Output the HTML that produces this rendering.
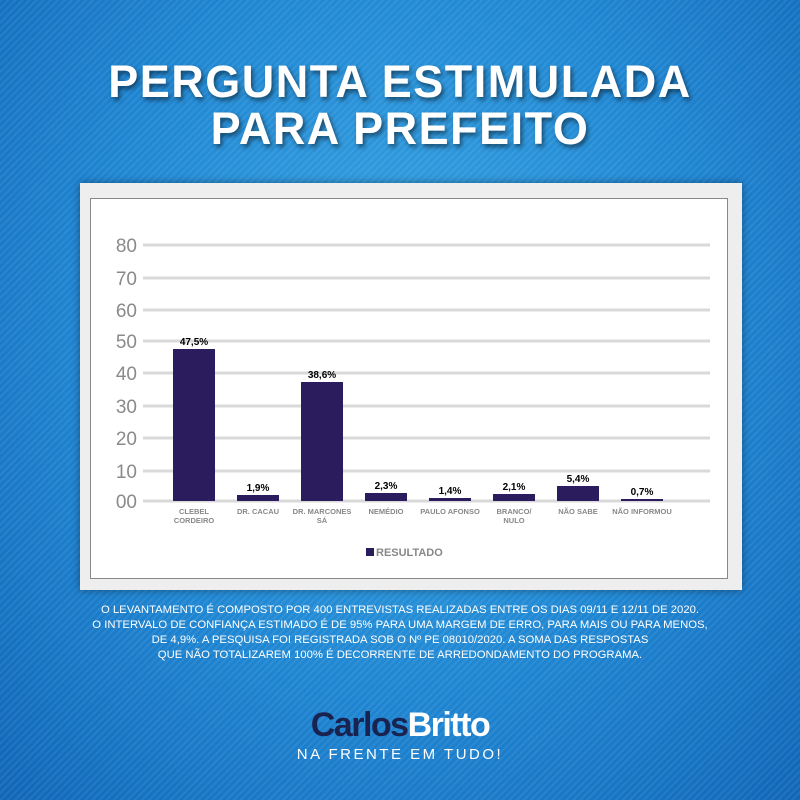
<!DOCTYPE html>
<html><head><meta charset="utf-8"><style>
*{margin:0;padding:0}
body{width:800px;height:800px;overflow:hidden;position:relative;font-family:"Liberation Sans",sans-serif;
background:radial-gradient(ellipse at 50% 40%,#3aa6e4 0%,#1f86d2 55%,#1166b8 100%);}
.stripes{position:absolute;inset:0;background:repeating-linear-gradient(135deg,rgba(255,255,255,0.07) 0 2px,rgba(0,0,0,0) 2px 5px);}
.t{position:absolute;left:0;width:800px;text-align:center;color:#fff;font-weight:bold;font-size:45px;letter-spacing:1.5px;text-shadow:2px 3px 5px rgba(0,0,0,.5)}
.frame{position:absolute;left:80px;top:183px;width:662px;height:407px;background:#eeeeee;box-shadow:0 0 8px rgba(0,0,0,.4)}
.inner{position:absolute;left:90px;top:198px;width:636px;height:379px;background:#fff;border:1px solid #888}
.note{position:absolute;left:0;width:800px;top:603px;text-align:center;color:#fff;font-size:11.3px;line-height:15px}
</style></head><body>
<div class="stripes"></div>
<div class="t" style="top:56px">PERGUNTA ESTIMULADA</div>
<div class="t" style="top:103px">PARA PREFEITO</div>
<div class="frame"></div>
<div class="inner"></div>
<svg style="position:absolute;left:0;top:0" width="800" height="800">
<g stroke="#d9d9d9" stroke-width="3">
<line x1="143" x2="710" y1="245" y2="245"/><line x1="143" x2="710" y1="278" y2="278"/>
<line x1="143" x2="710" y1="310" y2="310"/><line x1="143" x2="710" y1="341" y2="341"/>
<line x1="143" x2="710" y1="373" y2="373"/><line x1="143" x2="710" y1="406" y2="406"/>
<line x1="143" x2="710" y1="438" y2="438"/><line x1="143" x2="710" y1="471" y2="471"/>
<line x1="143" x2="710" y1="501" y2="501"/></g>
<g fill="#8a8a8a" font-size="19" text-anchor="end" font-family="Liberation Sans">
<text x="137" y="252">80</text><text x="137" y="285">70</text><text x="137" y="317">60</text>
<text x="137" y="348">50</text><text x="137" y="380">40</text><text x="137" y="413">30</text>
<text x="137" y="445">20</text><text x="137" y="478">10</text><text x="137" y="508">00</text></g>
<g fill="#2b1c5e">
<rect x="173" y="349" width="42" height="152"/><rect x="237" y="495" width="42" height="6"/>
<rect x="301" y="382" width="42" height="119"/><rect x="365" y="493" width="42" height="8"/>
<rect x="429" y="498" width="42" height="3"/><rect x="493" y="494" width="42" height="7"/>
<rect x="557" y="486" width="42" height="15"/><rect x="621" y="499" width="42" height="2"/>
<rect x="366" y="548" width="8" height="8"/></g>
<g font-size="10" font-weight="bold" text-anchor="middle" fill="#000">
<text x="194" y="345">47,5%</text><text x="258" y="491">1,9%</text><text x="322" y="378">38,6%</text>
<text x="386" y="489">2,3%</text><text x="450" y="494">1,4%</text><text x="514" y="490">2,1%</text>
<text x="578" y="482">5,4%</text><text x="642" y="495">0,7%</text></g>
<g font-size="7.5" font-weight="bold" text-anchor="middle" fill="#888">
<text x="194" y="514">CLEBEL</text><text x="194" y="523">CORDEIRO</text>
<text x="258" y="514">DR. CACAU</text><text x="322" y="514">DR. MARCONES</text><text x="322" y="523">SÁ</text>
<text x="386" y="514">NEMÉDIO</text><text x="450" y="514">PAULO AFONSO</text>
<text x="514" y="514">BRANCO/</text><text x="514" y="523">NULO</text>
<text x="578" y="514">NÃO SABE</text><text x="642" y="514">NÃO INFORMOU</text></g>
<text x="376" y="556" font-size="11" font-weight="bold" fill="#888">RESULTADO</text>
</svg>
<div class="note">O LEVANTAMENTO É COMPOSTO POR 400 ENTREVISTAS REALIZADAS  ENTRE OS DIAS 09/11 E 12/11 DE 2020.<br>O INTERVALO DE CONFIANÇA ESTIMADO É DE 95% PARA UMA MARGEM DE ERRO, PARA MAIS OU PARA MENOS,<br>DE 4,9%. A PESQUISA FOI REGISTRADA SOB O Nº PE 08010/2020. A SOMA DAS RESPOSTAS<br>QUE NÃO TOTALIZAREM 100% É DECORRENTE DE ARREDONDAMENTO DO PROGRAMA.</div>
<div style="position:absolute;left:0;width:800px;top:706px;text-align:center;font-size:34px;font-weight:bold;letter-spacing:-1.5px"><span style="color:#1a2350">Carlos</span><span style="color:#fff">Britto</span></div>
<div style="position:absolute;left:0;width:800px;top:746px;text-align:center;font-size:15px;color:#fff;letter-spacing:2.5px">NA FRENTE EM TUDO!</div>
</body></html>
